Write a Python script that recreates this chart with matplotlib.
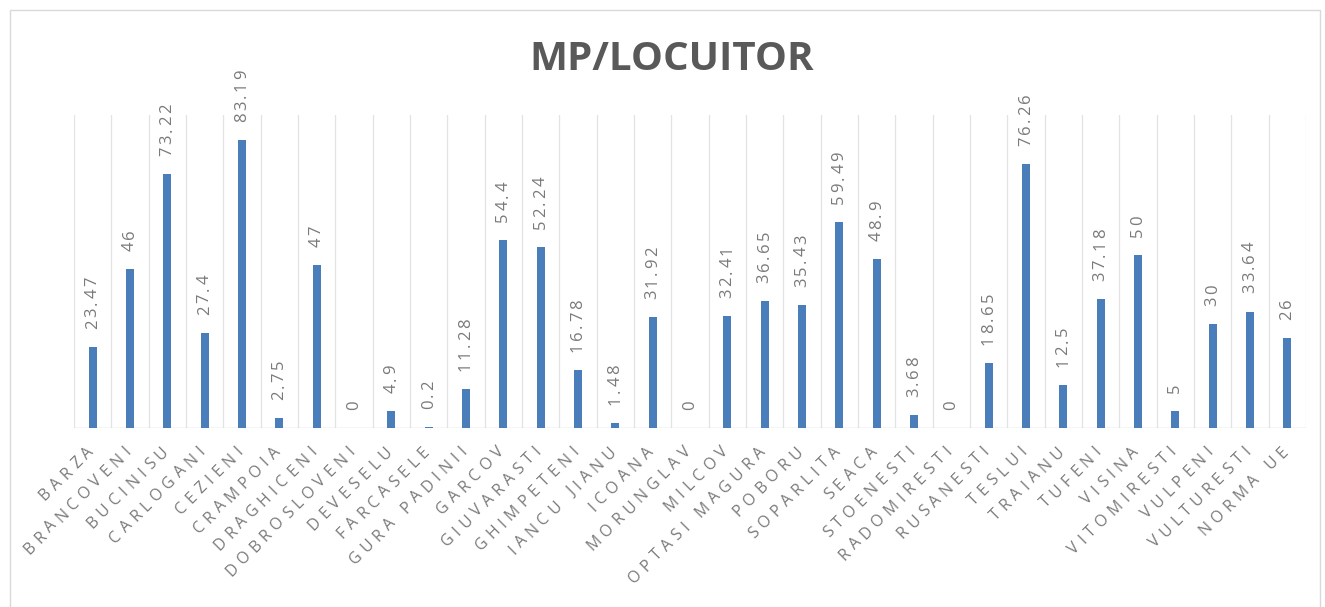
import matplotlib.pyplot as plt
import numpy as np
from matplotlib.font_manager import FontProperties
from matplotlib.textpath import TextToPath

# Green space per inhabitant, by locality
localitati = ['BARZA', 'BRANCOVENI', 'BUCINISU', 'CARLOGANI', 'CEZIENI', 'CRAMPOIA',
              'DRAGHICENI', 'DOBROSLOVENI', 'DEVESELU', 'FARCASELE', 'GURA PADINII',
              'GARCOV', 'GIUVARASTI', 'GHIMPETENI', 'IANCU JIANU', 'ICOANA', 'MORUNGLAV',
              'MILCOV', 'OPTASI MAGURA', 'POBORU', 'SOPARLITA', 'SEACA', 'STOENESTI',
              'RADOMIRESTI', 'RUSANESTI', 'TESLUI', 'TRAIANU', 'TUFENI', 'VISINA',
              'VITOMIRESTI', 'VULPENI', 'VULTURESTI', 'NORMA UE']
mp_locuitor = [23.47, 46, 73.22, 27.4, 83.19, 2.75, 47, 0, 4.9, 0.2, 11.28, 54.4,
               52.24, 16.78, 1.48, 31.92, 0, 32.41, 36.65, 35.43, 59.49, 48.9, 3.68,
               0, 18.65, 76.26, 12.5, 37.18, 50, 5, 30, 33.64, 26]

FONT = 'Open Sans'
plt.rcParams['font.family'] = [FONT, 'DejaVu Sans']
GREY = '#7a7a7a'
t2p = TextToPath()


def char_widths(s, size):
    prop = FontProperties(family=FONT, size=size)
    out = []
    for ch in s:
        if ch == ' ':
            out.append(0.28 * size)
        else:
            w, _, _ = t2p.get_text_width_height_descent(ch, prop, ismath=False)
            out.append(w)
    return out


def spaced_text(ax, s, xy, angle, size, spacing, offset=(0, 0), from_end=False, **kw):
    """Letter-spaced text laid out char by char along `angle` (degrees)."""
    ws = char_widths(s, size)
    u = np.array([np.cos(np.radians(angle)), np.sin(np.radians(angle))])
    total = sum(ws) + spacing * (len(s) - 1)
    start = np.array(offset, float) - (total * u if from_end else 0)
    pos = 0.0
    for ch, w in zip(s, ws):
        c = start + (pos + w / 2) * u
        pos += w + spacing
        if ch == ' ':
            continue
        ax.annotate(ch, xy, xytext=tuple(c), textcoords='offset points',
                    rotation=angle, rotation_mode='anchor', ha='center', va='center',
                    fontsize=size, annotation_clip=False, **kw)


fig = plt.figure(figsize=(13.25, 6.07), dpi=100)
ax = fig.add_axes([74 / 1325, 1 - 428 / 607, (1306 - 74) / 1325, (428 - 115) / 607])

x = np.arange(len(localitati))
ax.bar(x, mp_locuitor, width=0.22, color='#4a7ebb', zorder=3)

ax.set_xlim(-0.5, len(localitati) - 0.5)
ax.set_ylim(0, 90.4)

# value labels above the bars, vertical
for xi, v in zip(x, mp_locuitor):
    spaced_text(ax, f'{v:g}', (xi, v), 90, 12, 1.8, offset=(0, 13), color=GREY)

# category names at 45 degrees, ending under each bar
for xi, name in zip(x, localitati):
    spaced_text(ax, name, (xi, 0), 45, 11.5, 3.6, offset=(-1, -15.5),
                from_end=True, color=GREY)

# light vertical separators between categories
for b in np.arange(-0.5, len(localitati), 1.0):
    ax.axvline(b, color='#e3e3e3', lw=0.9, zorder=1)
ax.axhline(0, color='#d0d0d0', lw=1, zorder=2)

for s in ax.spines.values():
    s.set_visible(False)
ax.set_xticks([])
ax.set_yticks([])

fig.text(672 / 1325, 1 - 59 / 607, 'MP/LOCUITOR', ha='center', va='center',
         fontsize=29, fontweight='bold', color='#595959')

# outer chart frame
fig.patches.append(plt.Rectangle((10 / 1325, -0.05), 1310 / 1325, 1 - 10 / 607 + 0.05,
                                 transform=fig.transFigure, fill=False,
                                 edgecolor='#d9d9d9', lw=1))

fig.savefig('out.png', dpi=100)
